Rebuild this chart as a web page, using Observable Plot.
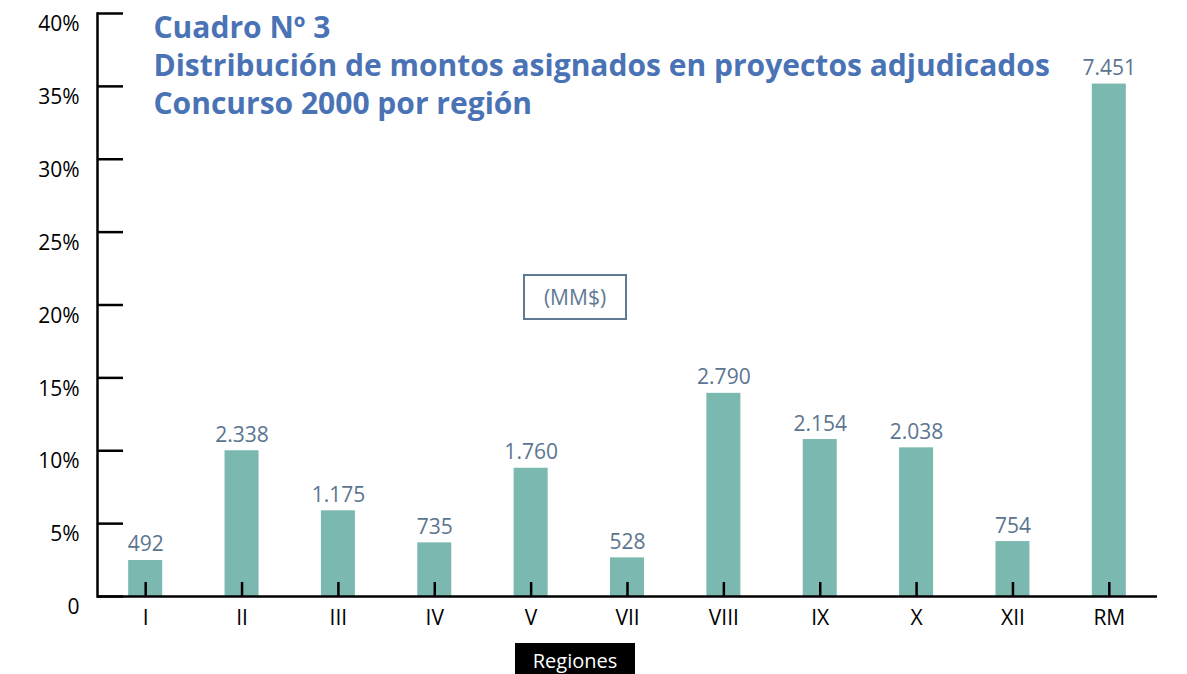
<!DOCTYPE html>
<html><head><meta charset="utf-8">
<script src="https://cdn.jsdelivr.net/npm/d3@7"></script>
<script src="https://cdn.jsdelivr.net/npm/@observablehq/plot@0.6"></script>
<style>
body{margin:0;background:#fff;font-family:"Open Sans",sans-serif;}
#wrap{position:relative;width:1187px;height:674px;overflow:hidden;background:#fff;}
#unit{position:absolute;left:523px;top:274px;width:100px;height:42px;border:2px solid #5f7a93;color:#5f7a93;font-size:21px;display:flex;align-items:center;justify-content:center;}
#xlab{position:absolute;left:515px;top:643px;width:120px;height:40px;background:#000;color:#fff;font-size:20px;text-align:center;line-height:20px;padding-top:8px;box-sizing:border-box;}
svg{display:block;}
</style>
</head><body>
<div id="wrap"><div id="chart"></div><div id="unit"></div><div id="xlab"></div></div>
<script>
const regions = ["I","II","III","IV","V","VII","VIII","IX","X","XII","RM"];
const shares = [2.47,10.0,5.88,3.68,8.80,2.65,13.94,10.77,10.2,3.77,35.16];
const amounts = ["492","2.338","1.175","735","1.760","528","2.790","2.154","2.038","754","7.451"];
const yTicks = [0,5,10,15,20,25,30,35,40];
const yTickLabels = ["0","5%","10%","15%","20%","25%","30%","35%","40%"];
const titleLines = ["Cuadro Nº 3","Distribución de montos asignados en proyectos adjudicados","Concurso 2000 por región"];
const unitLabel = "(MM$)";
const xAxisLabel = "Regiones";

const data = regions.map((r,i)=>({region:r, share:shares[i], amount:amounts[i]}));

const chart = Plot.plot({
  width: 1187, height: 643,
  marginLeft: 97, marginRight: 30, marginTop: 13, marginBottom: 47,
  style: {fontFamily: "Open Sans", background: "white"},
  x: {domain: regions, paddingInner: 0.647, paddingOuter: 0.3235, round: false, axis: null},
  y: {domain: [0,40], axis: null},
  marks: [
    Plot.barY(data, {x:"region", y:"share", fill:"#7bb9b0"}),
    Plot.text(data, {x:"region", y:"share", text:"amount", dy:-9, lineAnchor:"bottom", fill:"#5b7590", fontSize:21}),
    Plot.ruleY([0], {stroke:"black", strokeWidth:2.5}),
    Plot.frame({anchor:"left", stroke:"black", strokeWidth:2.5}),
    Plot.axisY(yTicks, {label:null, tickSize:26, dx:26, tickFormat:()=>"", stroke:"black", strokeWidth:2.5}),
    Plot.axisY(yTicks, {label:null, tickSize:0, tickPadding:18, dy:11, tickFormat:d=>yTickLabels[yTicks.indexOf(d)], fontSize:21, fill:"black"}),
    Plot.axisX({label:null, tickSize:14, dy:-14, tickFormat:()=>"", stroke:"black", strokeWidth:2.5}),
    Plot.axisX({label:null, tickSize:0, tickPadding:14, fontSize:21, fill:"black"}),
    Plot.text([titleLines.join("\n")], {text:d=>d, frameAnchor:"top-left", textAnchor:"start", lineAnchor:"top", dx:56, dy:-2, lineHeight:1.26, fontSize:30, fontWeight:"bold", fill:"#4a73b5"})
  ]
});
document.getElementById("chart").appendChild(chart);
document.getElementById("unit").textContent = unitLabel;
document.getElementById("xlab").textContent = xAxisLabel;
</script>
</body></html>
